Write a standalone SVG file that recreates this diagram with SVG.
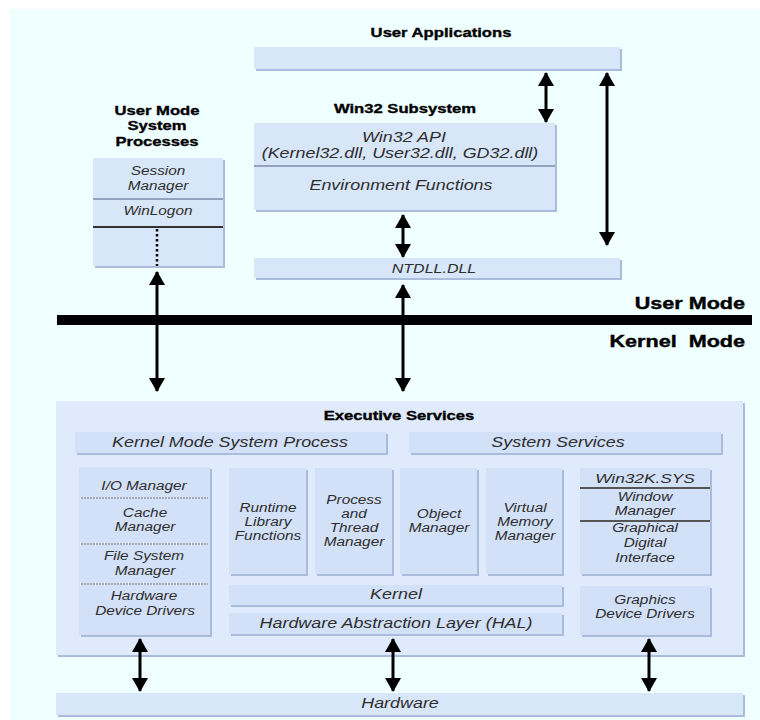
<svg xmlns="http://www.w3.org/2000/svg" width="760" height="720" viewBox="0 0 760 720">
<defs>
<style>
text{font-family:"Liberation Sans",Arial,sans-serif;text-anchor:middle}
.b{font-weight:bold;font-size:13px;fill:#000;stroke:#000;stroke-width:0.35}
.bm{font-weight:bold;font-size:17px;fill:#000;stroke:#000;stroke-width:0.4;text-anchor:end}
.i{font-style:italic;font-size:12px;fill:#2e2e2e}
.l{font-style:italic;font-size:14px;fill:#2e2e2e}
.sh{fill:#aabbdc}
.bx{fill:#d8e6fa}
.ex{fill:#dfeafc}
.in{fill:#d2e0f8}
.arr{stroke:#000;stroke-width:3;fill:none;marker-start:url(#ah);marker-end:url(#ah)}
.dv{stroke:#7d8ca6;stroke-width:1.5}
.dk{stroke:#333;stroke-width:2}
.dt{stroke:#777;stroke-width:1;stroke-dasharray:2 1}
</style>
<marker id="ah" viewBox="0 0 14 16" refX="13" refY="8" markerWidth="14" markerHeight="16" markerUnits="userSpaceOnUse" orient="auto-start-reverse">
<path d="M0,0 L14,8 L0,16 Z" fill="#000"/>
</marker>
</defs>
<rect x="0" y="0" width="760" height="720" fill="#fff"/>
<rect x="10" y="9" width="750" height="711" fill="#f0ffff"/>

<g id="user-applications">
<text class="b" transform="translate(441,37) scale(1.28,1)">User Applications</text>
<rect class="sh" x="256" y="49" width="366" height="22"/>
<rect class="bx" x="254" y="47" width="366" height="22"/>
</g>

<g id="win32-subsystem">
<text class="b" transform="translate(405,113) scale(1.28,1)">Win32 Subsystem</text>
<rect class="sh" x="256" y="125" width="301" height="87"/>
<rect class="bx" x="254" y="123" width="301" height="87"/>
<line class="dv" x1="254" y1="166" x2="555" y2="166"/>
<text class="l" transform="translate(404,142) scale(1.28,1)">Win32 API</text>
<text class="l" transform="translate(400,158) scale(1.28,1)">(Kernel32.dll, User32.dll, GD32.dll)</text>
<text class="l" transform="translate(401,190) scale(1.28,1)">Environment Functions</text>
</g>

<g id="ntdll">
<rect class="sh" x="256" y="260" width="366" height="20"/>
<rect class="bx" x="254" y="258" width="366" height="20"/>
<text class="l" style="font-size:12.5px" transform="translate(434,273) scale(1.28,1)">NTDLL.DLL</text>
</g>

<g id="user-mode-system-processes">
<text class="b" transform="translate(157,115) scale(1.28,1)">User Mode</text>
<text class="b" transform="translate(157,130) scale(1.28,1)">System</text>
<text class="b" transform="translate(157,146) scale(1.28,1)">Processes</text>
<rect class="sh" x="95" y="160" width="130" height="108"/>
<rect class="bx" x="93" y="158" width="130" height="108"/>
<text class="i" transform="translate(158,175) scale(1.28,1)">Session</text>
<text class="i" transform="translate(158,190) scale(1.28,1)">Manager</text>
<line class="dv" x1="93" y1="199" x2="223" y2="199"/>
<text class="i" transform="translate(158,215) scale(1.28,1)">WinLogon</text>
<line class="dk" x1="93" y1="227" x2="223" y2="227"/>
<line x1="157" y1="229" x2="157" y2="266" stroke="#000" stroke-width="2.5" stroke-dasharray="2.5 2.5"/>
</g>

<g id="mode-boundary">
<rect x="57" y="315" width="695" height="10" fill="#000"/>
<text class="bm" transform="translate(745,309) scale(1.27,1)">User Mode</text>
<text class="bm" xml:space="preserve" transform="translate(745,347) scale(1.27,1)">Kernel  Mode</text>
</g>

<g id="executive-services">
<rect class="sh" x="58" y="403" width="687" height="254"/>
<rect class="ex" x="56" y="401" width="687" height="254"/>
<text class="b" transform="translate(399,420) scale(1.28,1)">Executive Services</text>
</g>

<g id="kernel-mode-system-process">
<rect class="sh" x="77" y="434" width="311" height="21"/>
<rect class="in" x="75" y="432" width="311" height="21"/>
<text class="l" transform="translate(230,447) scale(1.28,1)">Kernel Mode System Process</text>
</g>

<g id="system-services">
<rect class="sh" x="411" y="434" width="312" height="21"/>
<rect class="in" x="409" y="432" width="312" height="21"/>
<text class="l" transform="translate(558,447) scale(1.28,1)">System Services</text>
</g>

<g id="io-column">
<rect class="sh" x="81" y="469" width="131" height="168"/>
<rect class="in" x="79" y="467" width="131" height="168"/>
<text class="i" transform="translate(144,490) scale(1.28,1)">I/O Manager</text>
<line class="dt" x1="81" y1="498" x2="208" y2="498"/>
<text class="i" transform="translate(145,517) scale(1.28,1)">Cache</text>
<text class="i" transform="translate(145,531) scale(1.28,1)">Manager</text>
<line class="dt" x1="81" y1="544" x2="208" y2="544"/>
<text class="i" transform="translate(144,560) scale(1.28,1)">File System</text>
<text class="i" transform="translate(145,575) scale(1.28,1)">Manager</text>
<line class="dt" x1="81" y1="584" x2="208" y2="584"/>
<text class="i" transform="translate(144,600) scale(1.28,1)">Hardware</text>
<text class="i" transform="translate(145,615) scale(1.28,1)">Device Drivers</text>
</g>

<g id="runtime-library">
<rect class="sh" x="231" y="470" width="77" height="106"/>
<rect class="in" x="229" y="468" width="77" height="106"/>
<text class="i" transform="translate(268,512) scale(1.28,1)">Runtime</text>
<text class="i" transform="translate(268,526) scale(1.28,1)">Library</text>
<text class="i" transform="translate(268,540) scale(1.28,1)">Functions</text>
</g>

<g id="process-thread-manager">
<rect class="sh" x="317" y="470" width="77" height="106"/>
<rect class="in" x="315" y="468" width="77" height="106"/>
<text class="i" transform="translate(354,504) scale(1.28,1)">Process</text>
<text class="i" transform="translate(354,518) scale(1.28,1)">and</text>
<text class="i" transform="translate(354,532) scale(1.28,1)">Thread</text>
<text class="i" transform="translate(354,546) scale(1.28,1)">Manager</text>
</g>

<g id="object-manager">
<rect class="sh" x="402" y="470" width="77" height="106"/>
<rect class="in" x="400" y="468" width="77" height="106"/>
<text class="i" transform="translate(439,518) scale(1.28,1)">Object</text>
<text class="i" transform="translate(439,532) scale(1.28,1)">Manager</text>
</g>

<g id="virtual-memory-manager">
<rect class="sh" x="488" y="470" width="76" height="106"/>
<rect class="in" x="486" y="468" width="76" height="106"/>
<text class="i" transform="translate(525,512) scale(1.28,1)">Virtual</text>
<text class="i" transform="translate(525,526) scale(1.28,1)">Memory</text>
<text class="i" transform="translate(525,540) scale(1.28,1)">Manager</text>
</g>

<g id="kernel">
<rect class="sh" x="231" y="587" width="333" height="20"/>
<rect class="in" x="229" y="585" width="333" height="20"/>
<text class="l" transform="translate(396,599) scale(1.28,1)">Kernel</text>
</g>

<g id="hal">
<rect class="sh" x="231" y="615" width="333" height="21"/>
<rect class="in" x="229" y="613" width="333" height="21"/>
<text class="l" transform="translate(396,628) scale(1.28,1)">Hardware Abstraction Layer (HAL)</text>
</g>

<g id="win32k-sys">
<rect class="sh" x="582" y="470" width="130" height="106"/>
<rect class="in" x="580" y="468" width="130" height="106"/>
<text class="l" style="font-size:13.5px" transform="translate(645,483) scale(1.28,1)">Win32K.SYS</text>
<line class="dk" x1="580" y1="488" x2="710" y2="488" style="stroke:#555"/>
<text class="i" transform="translate(645,501) scale(1.28,1)">Window</text>
<text class="i" transform="translate(645,515) scale(1.28,1)">Manager</text>
<line class="dk" x1="580" y1="521" x2="710" y2="521" style="stroke:#555"/>
<text class="i" transform="translate(645,532) scale(1.28,1)">Graphical</text>
<text class="i" transform="translate(645,547) scale(1.28,1)">Digital</text>
<text class="i" transform="translate(645,562) scale(1.28,1)">Interface</text>
</g>

<g id="graphics-device-drivers">
<rect class="sh" x="582" y="588" width="130" height="49"/>
<rect class="in" x="580" y="586" width="130" height="49"/>
<text class="i" transform="translate(645,604) scale(1.28,1)">Graphics</text>
<text class="i" transform="translate(645,618) scale(1.28,1)">Device Drivers</text>
</g>

<g id="hardware">
<rect class="sh" x="58" y="695" width="687" height="22"/>
<rect class="bx" x="56" y="693" width="687" height="22"/>
<text class="l" transform="translate(400,708) scale(1.28,1)">Hardware</text>
</g>

<g id="connectors">
<line class="arr" x1="546" y1="73" x2="546" y2="122"/>
<line class="arr" x1="607" y1="73" x2="607" y2="245"/>
<line class="arr" x1="403" y1="215" x2="403" y2="257"/>
<line class="arr" x1="157" y1="272" x2="157" y2="391"/>
<line class="arr" x1="403" y1="285" x2="403" y2="391"/>
<line class="arr" x1="140" y1="639" x2="140" y2="691"/>
<line class="arr" x1="393" y1="639" x2="393" y2="691"/>
<line class="arr" x1="649" y1="639" x2="649" y2="691"/>
</g>
</svg>
